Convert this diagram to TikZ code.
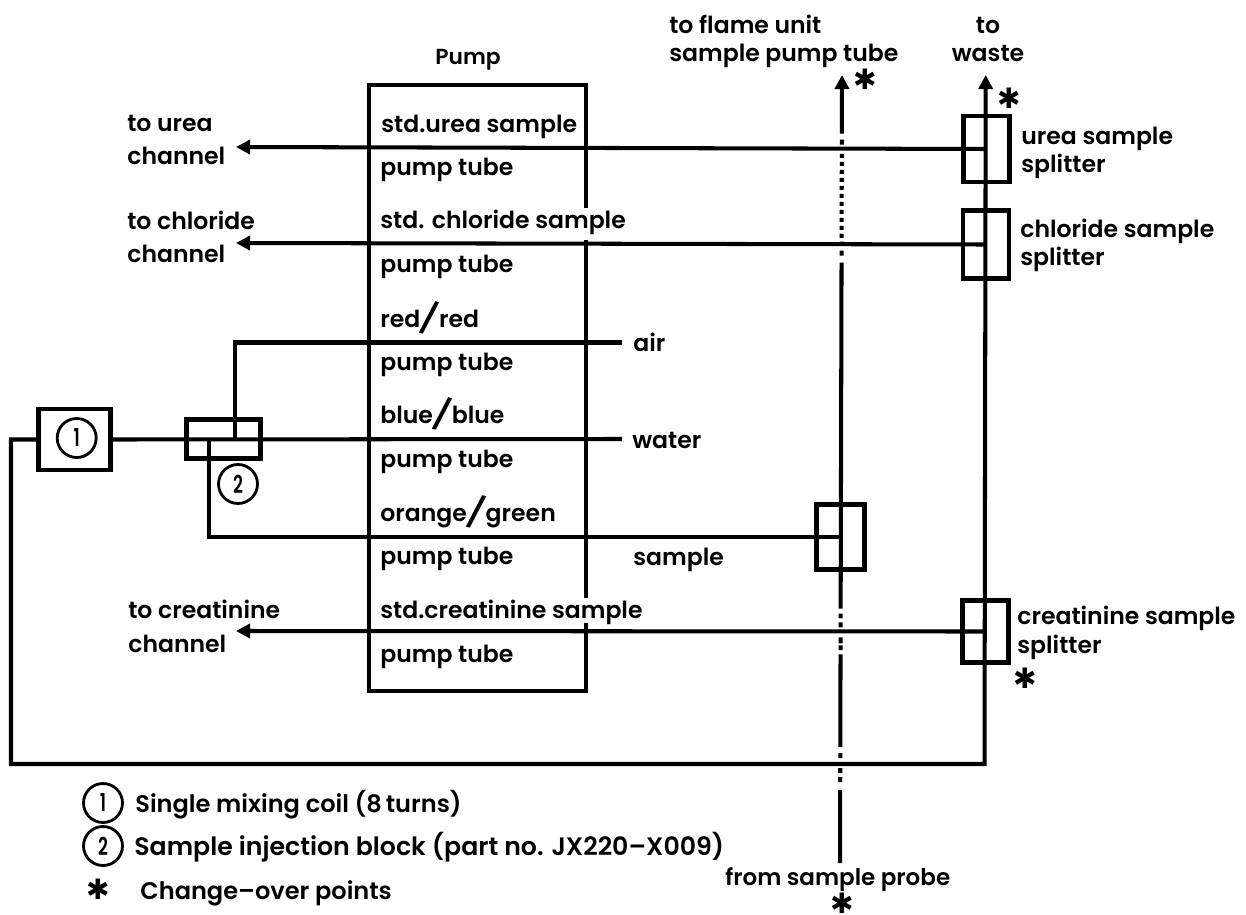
\documentclass[tikz,border=0pt]{standalone}
\usepackage{fontspec}
\setmainfont{Poppins SemiBold}
\newfontfamily\symfont{DejaVu Sans}
\usepackage{tikz}
\usetikzlibrary{arrows.meta}
\newcommand{\tubeslash}{\makebox[0.8em][c]{\raisebox{-0.12em}{\rotatebox[origin=c]{-14}{\scalebox{1.3}{/}}}}}
\newcommand{\discnum}[1]{\scalebox{0.7}[1]{#1}}

\begin{document}
\begin{tikzpicture}[
          x=0.02cm, y=-0.02cm,
          every node/.style={inner sep=0pt, anchor=base west, align=left, font=\fontsize{13.4}{18.8}\selectfont},
          closelines/.style={font=\fontsize{13.4}{16.5}\selectfont},
          legendtext/.style={font=\fontsize{13.7}{16}\selectfont},
          tube/.style={line width=2.3pt},
          tubearrow/.style={tube, -{Triangle[length=8pt,width=8pt]}},
          boxline/.style={line width=2.7pt},
          splitbox/.style={draw, boxline, anchor=center, minimum width=0.92cm, minimum height=1.32cm},
          numdisc/.style={draw, circle, line width=1.6pt, anchor=center, minimum size=0.78cm, font=\fontsize{14}{16}\selectfont},
          star/.style={anchor=center, font=\symfont\fontsize{16}{18}\selectfont},
          sampleline/.style={tubearrow, dash pattern=on 41.5pt off 4.6pt on 2.8pt off 2.3pt on 2.8pt off 5.7pt on 2.8pt off 3.4pt on 52.9pt off 2.3pt on 2.8pt off 1.1pt on 3.4pt off 5.7pt on 2.8pt off 2.3pt on 2.8pt off 2.8pt on 196.9pt off 4pt on 2.8pt off 2.8pt on 2.3pt off 2.25pt on 2.3pt off 2.25pt on 2.3pt off 2.25pt on 2.3pt off 2.25pt on 2.3pt off 2.25pt on 2.3pt off 2.25pt on 2.3pt off 2.25pt on 2.3pt off 2.25pt on 2.3pt off 2.25pt on 2.3pt off 2.25pt on 2.3pt off 2.25pt on 2.3pt off 5.25pt on 2.8pt off 3.4pt on 40pt off 0pt}
        ]
          \useasboundingbox (0,0) rectangle (1246,915);

          \node (pumptitle) [font=\fontsize{12.4}{15}\selectfont] at (435,65) {Pump};
          \node (flamelabel) [closelines] at (669,62) {to flame unit\\sample pump tube};
          \node (wastelabel) [closelines, anchor=base, align=center] at (988,62) {to\\waste};

          \draw[boxline] (586,208) -- (586,85) -- (369,85) -- (369,691) -- (586,691) -- (586,623);
          \draw[boxline] (586,240) -- (586,598);

          \node (ureasplit) [splitbox] at (986.5,149) {};
          \node (chloridesplit) [splitbox, minimum height=1.36cm] at (986,244.5) {};
          \node (creatsplit) [splitbox, minimum height=1.24cm] at (985.5,631.5) {};
          \node (samplesplit) [splitbox, minimum width=0.96cm, minimum height=1.3cm] at (840.5,537) {};
          \node (coil) [splitbox, minimum width=1.44cm, minimum height=1.22cm] at (74.5,439.5) {};
          \node (injblock) [splitbox, minimum width=1.48cm, minimum height=0.78cm] at (223.5,439) {};
          \node (coilnum) [numdisc] at (76.7,438) {\discnum{1}};
          \node (injnum) [numdisc] at (238,484) {\discnum{2}};

          \coordinate (ureatip) at (236,147);
          \coordinate (chloridetip) at (236,243);
          \coordinate (creattip) at (236,631);
          \coordinate (airend) at (622,342.5);
          \coordinate (airjoin) at (235,439);
          \coordinate (waterend) at (622,439);
          \coordinate (samplejoin) at (209,439);
          \coordinate (loopa) at (11,439.5);
          \coordinate (loopb) at (11,764);
          \coordinate (wastefoot) at (984.5,764);
          \coordinate (wastetip) at (985.7,75);
          \coordinate (probeend) at (840,863);
          \coordinate (flametip) at (842,75);

          \draw[sampleline] (probeend) -- (flametip);
          \draw[tubearrow] (coil.west) -- (loopa) -- (loopb) -- (wastefoot) -- (wastetip);
          \draw[tubearrow] (ureasplit.center) -- (ureatip);
          \draw[tubearrow] (chloridesplit.center) -- (chloridetip);
          \draw[tubearrow] (creatsplit.center) -- (creattip);
          \draw[tube] (airend) -| (airjoin);
          \draw[tube] (waterend) -- (coil.east);
          \draw[tube] (samplesplit.center) -| (samplejoin);

          \node (ureato) at (127,165) {to urea\\channel};
          \node (chlorideto) at (127,263) {to chloride\\channel};
          \node (creatto) at (128,652) {to creatinine\\channel};

          \node (tubea) at (381,133) {std.urea sample};
          \node (tubeb) at (380,176) {pump tube};
          \node (tubec) at (380,229) {std. chloride sample};
          \node (tubed) at (380,273) {pump tube};
          \node (tubee) at (380,327) {red\tubeslash red};
          \node (tubef) at (380,370) {pump tube};
          \node (tubeg) at (380,423) {blue\tubeslash blue};
          \node (tubeh) at (380,467) {pump tube};
          \node (tubei) at (380,521) {orange\tubeslash green};
          \node (tubej) at (380,564) {pump tube};
          \node (tubek) at (380,618) {std.creatinine sample};
          \node (tubel) at (380,662) {pump tube};

          \node (airlabel) at (633,351) {air};
          \node (waterlabel) at (632,448) {water};
          \node (samplelabel) at (633,565) {sample};

          \node (ureasplitlabel) [closelines] at (1021,173) {urea sample\\splitter};
          \node (chloridesplitlabel) [closelines] at (1020,266) {chloride sample\\splitter};
          \node (creatsplitlabel) [closelines] at (1017,653) {creatinine sample\\splitter};
          \node (probelabel) [font=\fontsize{13.1}{15}\selectfont] at (725,885) {from sample probe};

          \node (stara) [star] at (865,79) {✱};
          \node (starb) [star] at (1009,98) {✱};
          \node (starc) [star] at (1025,678) {✱};
          \node (stard) [star] at (842,903) {✱};

          \node (legendone) [numdisc] at (103,803) {\discnum{1}};
          \node (legendtwo) [numdisc] at (103,846) {\discnum{2}};
          \node (legendstar) [star] at (98,889) {✱};
          \node (legendonetext) [legendtext] at (135,812) {Single mixing coil (8\,turns)};
          \node (legendtwotext) [font=\fontsize{14.35}{16}\selectfont] at (134,855) {Sample injection block (part no. JX220–X009)};
          \node (legendstartext) [legendtext] at (140,899) {Change–over points};
        \end{tikzpicture}
\end{document}
